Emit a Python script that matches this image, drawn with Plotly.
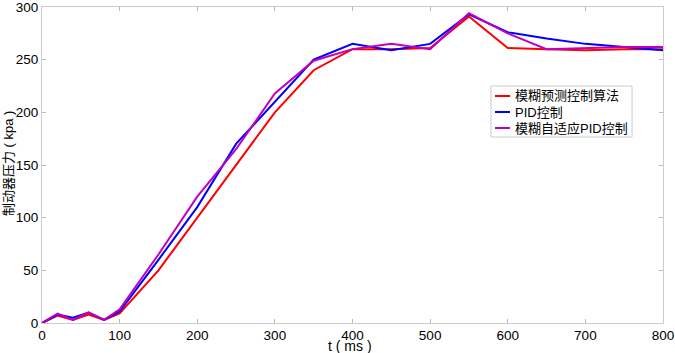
import plotly.graph_objects as go

t_ms = [0, 20, 40, 60, 80, 100, 150, 200, 250, 300, 350, 400, 450, 500, 550, 600, 650, 700, 750, 800]
fuzzy_predictive = [0, 7, 3, 8, 3, 9, 50, 100, 150, 200, 240, 260, 260, 261, 291, 261, 260, 259, 260, 260]
pid = [0, 8, 5, 10, 3, 11, 60, 110, 170, 210, 250, 265, 259, 265, 293, 276, 270, 265, 262, 259]
fuzzy_adaptive_pid = [0, 9, 3, 10, 3, 13, 65, 120, 165, 218, 249, 260, 265, 260, 294, 275, 260, 261, 262, 262]

names = ["模糊预测控制算法", "PID控制", "模糊自适应PID控制"]
colors = ["#ff0000", "#0000ff", "#bf00bf"]
x_title = "t ( ms )"
y_title = "制动器压力 ( kpa )"

W, H = 675, 353
L, R, T, B = 42, 12, 7, 30
pw, ph = W - L - R, H - T - B

def px_x(px):
    return (px - L) / pw

def px_y(py):
    return (H - B - py) / ph

fig = go.Figure()
for name, ys, c in zip(names, [fuzzy_predictive, pid, fuzzy_adaptive_pid], colors):
    fig.add_trace(go.Scatter(x=t_ms, y=ys, mode="lines", name=name,
                             line=dict(color=c, width=2), showlegend=False,
                             hoverinfo="skip"))

font_family = "Liberation Sans, Arial, Noto Sans CJK SC, sans-serif"
axis_common = dict(showgrid=False, zeroline=False, showline=True, linecolor="#cccccc",
                   linewidth=1, mirror="ticks", ticks="inside", ticklen=4, tickcolor="#bbbbbb",
                   automargin=False, ticklabeloverflow="allow",
                   tickfont=dict(size=13.5, color="#000000", family=font_family))

# manual legend (box, sample lines, labels)
shapes = [dict(type="rect", xref="paper", yref="paper",
               x0=px_x(491), x1=px_x(632), y0=px_y(137), y1=px_y(86),
               line=dict(color="#cccccc", width=1), fillcolor="white", layer="above")]
annotations = []
for i, (name, c) in enumerate(zip(names, colors)):
    yy = px_y(96 + 16 * i)
    shapes.append(dict(type="line", xref="paper", yref="paper", x0=px_x(495), x1=px_x(510),
                       y0=yy, y1=yy, line=dict(color=c, width=2), layer="above"))
    annotations.append(dict(text=name, xref="paper", yref="paper", x=px_x(513), y=yy,
                            xanchor="left", yanchor="middle", showarrow=False,
                            font=dict(size=13, family=font_family, color="#000000")))

annotations += [
    dict(text=x_title, x=px_x(350), y=px_y(346), xref="paper", yref="paper", xanchor="center",
         yanchor="middle", showarrow=False,
         font=dict(size=14, family=font_family)),
    dict(text=y_title, x=px_x(8), y=px_y(164), xref="paper", yref="paper",
         xanchor="center", yanchor="middle", showarrow=False, textangle=-90,
         font=dict(size=13, family=font_family)),
]

fig.update_layout(
    width=W, height=H,
    margin=dict(l=L, r=R, t=T, b=B),
    paper_bgcolor="white", plot_bgcolor="white",
    font=dict(family=font_family, size=13, color="#000000"),
    xaxis=dict(range=[0, 800], tickvals=[0, 100, 200, 300, 400, 500, 600, 700, 800], **axis_common),
    yaxis=dict(range=[0, 300], tickvals=[0, 50, 100, 150, 200, 250, 300], **axis_common),
    showlegend=False,
    hovermode=False,
    shapes=shapes,
    annotations=annotations,
)

fig.write_html("out.html", config={"displayModeBar": False},
               post_script="document.body.style.margin='0';")
